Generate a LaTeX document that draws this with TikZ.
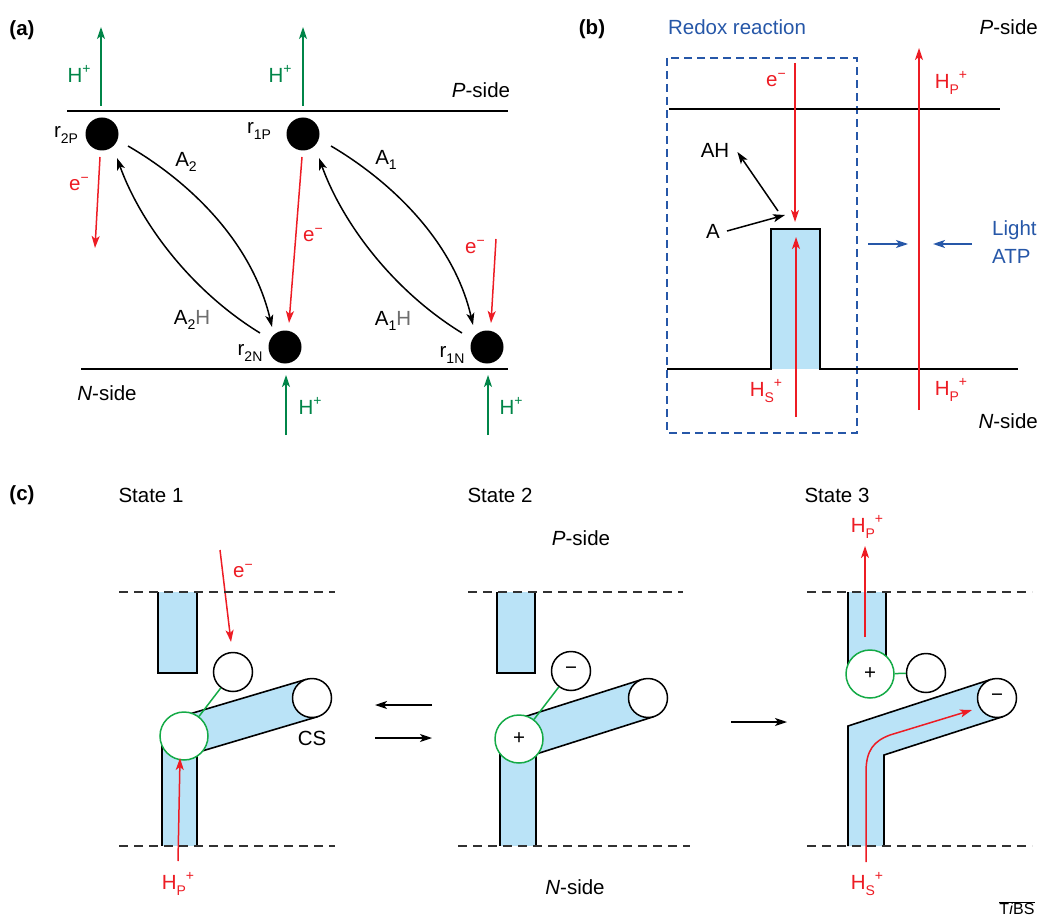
\documentclass[tikz,border=0pt]{standalone}
\usepackage{fontspec}
\setmainfont{Liberation Sans}
\usetikzlibrary{arrows.meta,calc}
\definecolor{hgreen}{RGB}{0,133,72}
\definecolor{cgreen}{RGB}{20,170,70}
\definecolor{ered}{RGB}{237,28,36}
\definecolor{rblue}{RGB}{38,87,168}
\definecolor{tubeblue}{RGB}{186,227,247}
\definecolor{hgray}{RGB}{110,110,110}
\definecolor{dgray}{RGB}{50,50,50}
\newcommand\mysub[1]{\raisebox{-0.28em}{\fontsize{14}{14}\selectfont #1}}
\newcommand\mysup[1]{\raisebox{0.42em}{\fontsize{14}{14}\selectfont #1}}
\begin{document}
\begin{tikzpicture}[x=1pt,y=-1pt,
  lbl/.style={inner sep=0pt, font=\fontsize{20.5}{24}\selectfont},
  blk/.style={line width=1.6pt},
  tip/.style={-{Stealth[length=12pt,width=8pt,inset=3pt]}, line width=1.5pt},
  garr/.style={tip, draw=hgreen, color=hgreen},
  rarr/.style={tip, draw=ered, color=ered},
  barr/.style={tip, draw=rblue, color=rblue},
  karr/.style={tip, draw=black},
  dot/.style={circle, fill=black, inner sep=0pt, minimum size=33pt},
  gcirc/.style={circle, draw=cgreen, fill=white, line width=1.5pt, inner sep=0pt, minimum size=48pt, font=\fontsize{20.5}{24}\selectfont},
  kcirc/.style={circle, draw=black, fill=white, line width=1.5pt, inner sep=0pt, minimum size=39pt, font=\fontsize{20.5}{24}\selectfont},
  gline/.style={draw=cgreen, line width=1.5pt},
  mdash/.style={draw=dgray, line width=1.5pt, dash pattern=on 9pt off 6pt},
  tube/.style={fill=tubeblue}
]
\useasboundingbox (0,0) rectangle (1038,917);

% ================= (a) =================
\node[lbl, font=\fontsize{20.5}{24}\selectfont\bfseries] (la) at (22,30) {(a)};
\draw[blk] (67,111) -- (508,111);
\draw[blk] (81,369) -- (508,369);
\node[lbl, anchor=center] (pa) at (481,90) {\textit{P}-side};
\node[lbl] (na) at (107,393) {\textit{N}-side};

\node[dot] (r2P) at (102,134) {};
\node[dot] (r1P) at (303,134) {};
\node[dot] (r2N) at (285,347) {};
\node[dot] (r1N) at (487,347) {};
\node[lbl] (lr2P) at (66,135) {r\mysub{2P}};
\node[lbl] (lr1P) at (259,131) {r\mysub{1P}};
\node[lbl] (lr2N) at (250,353) {r\mysub{2N}};
\node[lbl] (lr1N) at (452,355) {r\mysub{1N}};

% green protons
\draw[garr] ($(r2P)+(-1,-28)$) coordinate (g2a) -- ++(0,-79) coordinate (g2b);
\draw[garr] ($(r1P)+(0,-28)$) coordinate (g1a) -- ++(0,-79) coordinate (g1b);
\draw[garr] ($(r2N)+(1,88)$) coordinate (g3a) -- ++(0,-60) coordinate (g3b);
\draw[garr] ($(r1N)+(1,88)$) coordinate (g4a) -- ++(0,-60) coordinate (g4b);
\node[lbl, text=hgreen] (h1) at (79,74) {H\mysup{+}};
\node[lbl, text=hgreen] (h2) at (280,74) {H\mysup{+}};
\node[lbl, text=hgreen] (h3) at (310,406) {H\mysup{+}};
\node[lbl, text=hgreen] (h4) at (511,406) {H\mysup{+}};

% red electrons
\draw[rarr] ($(r2P)+(-2,23)$) -- ($(r2P)+(-7,114)$);
\draw[rarr] ($(r1P)+(-1,23)$) -- ($(r2N)+(4,-24)$);
\draw[rarr] ($(r1N)+(9,-108)$) -- ($(r1N)+(4,-24)$);
\node[lbl, text=ered] (e1) at (79,184) {e\mysup{−}};
\node[lbl, text=ered] (e2) at (313,235) {e\mysup{−}};
\node[lbl, text=ered] (e3) at (475,247) {e\mysup{−}};

% black curved arrows
\draw[karr] ($(r2P)+(26,12)$) .. controls (190,182) and (252,242) .. ($(r2N)+(-13,-20)$);
\draw[karr] ($(r2N)+(-25,-14)$) .. controls (190,290) and (140,222) .. ($(r2P)+(15,24)$);
\draw[karr] ($(r1P)+(28,12)$) .. controls (392,182) and (454,242) .. ($(r1N)+(-14,-22)$);
\draw[karr] ($(r1N)+(-25,-14)$) .. controls (392,290) and (342,222) .. ($(r1P)+(16,24)$);
\node[lbl] (A2) at (186,162) {A\mysub{2}};
\node[lbl] (A1) at (386,160) {A\mysub{1}};
\node[lbl] (A2H) at (192,320) {A\mysub{2}\textcolor{hgray}{H}};
\node[lbl] (A1H) at (393,321) {A\mysub{1}\textcolor{hgray}{H}};

% ================= (b) =================
\node[lbl, font=\fontsize{20.5}{24}\selectfont\bfseries] (lb) at (592,29) {(b)};
\node[lbl, text=rblue] (redox) at (737,27) {Redox reaction};
\node[lbl, anchor=east] (pb) at (1038,27) {\textit{P}-side};
\node[lbl, anchor=east] (nb) at (1038,421) {\textit{N}-side};
\draw[draw=rblue, line width=1.5pt, dash pattern=on 8pt off 5pt] (667,58) rectangle (857,433);
\draw[blk] (669,109) -- (1000,109);
\fill[tube] (771,229) rectangle (820,369);
\draw[blk] (667,369) -- (771,369) -- (771,229) -- (820,229) -- (820,369) -- (1018,369);
\draw[rarr] (795,63) -- (795,222);
\draw[rarr] (796,417) -- (796,237);
\draw[rarr] (919,410) -- (919,48);
\node[lbl, text=ered] (eb) at (776,80) {e\mysup{−}};
\node[lbl, text=ered] (hsb) at (766,391) {H\mysub{S}\mysup{+}};
\node[lbl, text=ered] (hpb1) at (951,83) {H\mysub{P}\mysup{+}};
\node[lbl, text=ered] (hpb2) at (951,390) {H\mysub{P}\mysup{+}};
\node[lbl] (Ab) at (713,231) {A};
\node[lbl] (AHb) at (715,150) {AH};
\draw[karr] ($(Ab.east)+(7,0)$) -- (785,215);
\draw[karr] (778,211) -- ($(AHb.east)+(8,2)$);
\draw[barr] (868,244) -- (908,244);
\draw[barr] (972,244) -- (933,244);
\node[lbl, text=rblue, anchor=west] (light) at (992,230) {Light};
\node[lbl, text=rblue, anchor=west] (atp) at (992,256) {ATP};

% ================= (c) =================
\node[lbl, font=\fontsize{20.5}{24}\selectfont\bfseries] (lc) at (22,495) {(c)};
\node[lbl] (s1) at (151,495) {State 1};
\node[lbl] (s2) at (500,495) {State 2};
\node[lbl] (s3) at (837,495) {State 3};
\node[lbl] (pc) at (581,538) {\textit{P}-side};
\node[lbl] (nc) at (575,887) {\textit{N}-side};

% ---- State 1
\fill[tube] (158,592) rectangle (197,673);
\draw[blk] (158,592) -- (158,673) -- (197,673) -- (197,592);
\fill[tube] (162,736) rectangle (197,846);
\draw[blk] (162,740) -- (162,846);
\draw[blk] (197,740) -- (197,846);
\fill[tube] (178.4,717.3) -- (306.4,679.3) -- (317.6,716.7) -- (189.6,754.7) -- cycle;
\draw[blk] (178.4,717.3) -- (306.4,679.3);
\draw[blk] (189.6,754.7) -- (317.6,716.7);
\node[kcirc] (end1) at (312,698) {};
\node[kcirc] (sm1) at (233,672) {};
\node[gcirc] (gc1) at (184,736) {};
\draw[gline] (gc1) -- (sm1);
\node[lbl] (cs) at (312,738) {CS};
\draw[rarr] (220,550) -- (231,642);
\node[lbl, text=ered] (ec1) at (243,571) {e\mysup{−}};
\draw[rarr] (178,861) -- (180,758);
\node[lbl, text=ered] (hpc1) at (178,884) {H\mysub{P}\mysup{+}};

% ---- State 2
\fill[tube] (497,592) rectangle (535,673);
\draw[blk] (497,592) -- (497,673) -- (535,673) -- (535,592);
\fill[tube] (500,739) rectangle (536,846);
\draw[blk] (500,745) -- (500,846);
\draw[blk] (536,745) -- (536,846);
\fill[tube] (513.1,720.4) -- (642.1,679.4) -- (653.9,716.6) -- (524.9,757.6) -- cycle;
\draw[blk] (513.1,720.4) -- (642.1,679.4);
\draw[blk] (524.9,757.6) -- (653.9,716.6);
\node[kcirc] (end2) at (648,698) {};
\node[kcirc] (sm2) at (571,671) {−};
\node[gcirc] (gc2) at (519,739) {+};
\draw[gline] (gc2) -- (sm2);

\draw[karr] (432,705) -- (375,705);
\draw[karr] (375,738) -- (432,738);
\draw[karr] (731,722) -- (787,722);

% ---- State 3
\fill[tube] (848,592) rectangle (886,674);
\draw[blk] (848,592) -- (848,674);
\draw[blk] (886,592) -- (886,674);
\fill[tube] (848,846) -- (848,726) -- (991,679.4) -- (1003,716.6) -- (884,755) -- (884,846) -- cycle;
\draw[blk] (848,846) -- (848,726) -- (991,679.4);
\draw[blk] (1003,716.6) -- (884,755) -- (884,846);
\node[kcirc] (end3) at (997,698) {−};
\node[kcirc] (sm3) at (926,673) {};
\node[gcirc] (gc3) at (870,674) {+};
\draw[gline] (gc3) -- (sm3);
\draw[rarr] (865,637) -- (865,546);
\node[lbl, text=ered] (hpc3) at (867,527) {H\mysub{P}\mysup{+}};
\draw[rarr] (866,862) -- (866,772) .. controls (866,750) and (874,741) .. (890,735) -- (972,710);
\node[lbl, text=ered] (hsc3) at (867,884) {H\mysub{S}\mysup{+}};

% dashed membrane lines
\draw[mdash] (119,592) -- (335,592);
\draw[mdash] (468,592) -- (683,592);
\draw[mdash] (807,592) -- (1032,592);
\draw[mdash] (119,846) -- (335,846);
\draw[mdash] (458,846) -- (690,846);
\draw[mdash] (807,846) -- (1032,846);

\node[inner sep=0pt, font=\fontsize{16}{18}\selectfont] (tibs) at (1017,908) {$\overline{\mbox{T\textit{i}BS}}$};
\end{tikzpicture}
\end{document}
